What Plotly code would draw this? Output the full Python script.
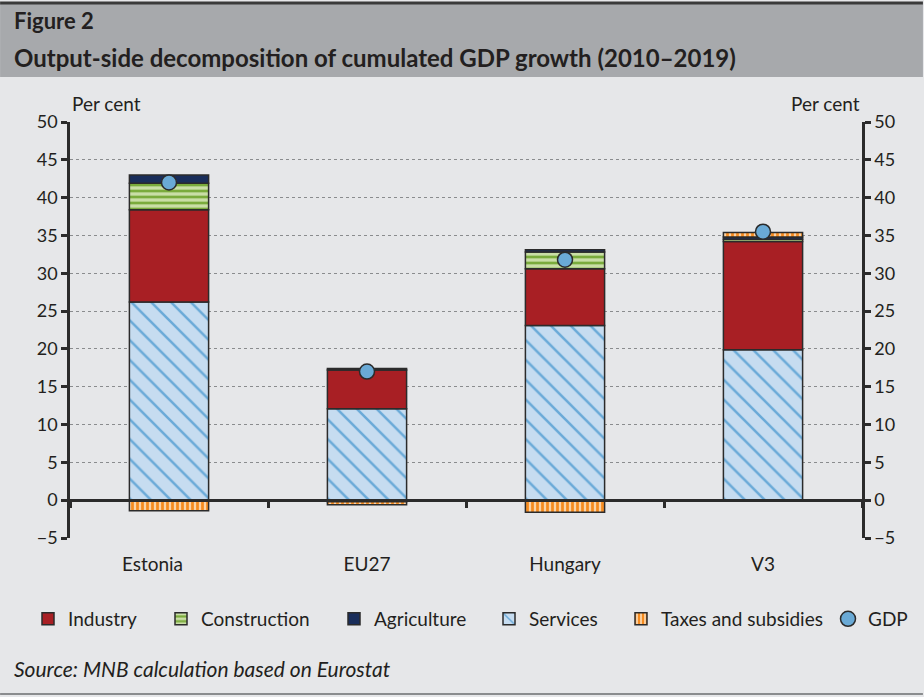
import plotly.graph_objects as go

# Cumulated GDP growth 2010-2019, contributions by sector (percentage points)
countries = ["Estonia", "EU27", "Hungary", "V3"]
services = [26.2, 12.1, 23.1, 19.9]
industry = [12.2, 5.1, 7.5, 14.3]
construction = [3.5, -0.2, 2.2, 0.3]
agriculture = [1.1, 0.2, 0.3, 0.3]
taxes = [-1.4, -0.4, -1.6, 0.6]
gdp = [42.0, 17.0, 31.8, 35.5]

y_ticks = list(range(-5, 55, 5))
y_tick_text = [("\u2212" + str(-v)) if v < 0 else str(v) for v in y_ticks]
# the Estonia label sits slightly left of its bar
x_tick_text = ["Estonia" + "\u2007" * 3, "EU27", "Hungary", "V3"]

FONT = "Lato"
TXT = "#231f20"
EDGE = "#2b2b2b"
BG = "#e6e7e9"

L, R, T, B = 70, 61, 122, 159
PW, PH = 924 - L - R, 697 - T - B


def px_x(p):
    return (p - L) / PW


def px_y(p):
    return (697 - B - p) / PH


fig = go.Figure()

# each legend entry gets its own legend box so the row spans the full width
legend_text_x = {"Industry": 70, "Construction": 203, "Agriculture": 376,
                 "Services": 531, "Taxes and subsidies": 663, "GDP": 870}
legend_ids = {"Industry": "legend", "Construction": "legend2", "Agriculture": "legend3",
              "Services": "legend4", "Taxes and subsidies": "legend5", "GDP": "legend6"}

bar_specs = [
    ("Services", services, dict(fillmode="replace", shape="\\", bgcolor="#c6dcf0",
                                fgcolor="#6aaad8", size=14, solidity=0.18)),
    ("Industry", industry, None),
    ("Construction", construction, dict(fillmode="replace", shape="-", bgcolor="#c9dea6",
                                        fgcolor="#7aab3c", size=6, solidity=0.45)),
    ("Agriculture", agriculture, None),
    ("Taxes and subsidies", taxes, dict(fillmode="replace", shape="|", bgcolor="#fbd3a6",
                                        fgcolor="#f68b1f", size=5, solidity=0.55)),
]
solid = {"Industry": "#a81f24", "Agriculture": "#192d5a"}

for name, vals, pattern in bar_specs:
    marker = dict(line=dict(color=EDGE, width=1.5))
    if pattern:
        marker["pattern"] = pattern
        marker["color"] = pattern["bgcolor"]
    else:
        marker["color"] = solid[name]
    fig.add_trace(go.Bar(
        x=countries, y=vals, name=name, marker=marker, width=0.4,
        legend=legend_ids[name], xaxis="x", yaxis="y",
    ))

fig.add_trace(go.Scatter(
    x=countries, y=gdp, name="GDP", mode="markers", legend=legend_ids["GDP"],
    marker=dict(size=15, color="#6aaad6", line=dict(color=EDGE, width=1.5)),
    xaxis="x", yaxis="y",
))

# invisible trace so the zero-line category axis is drawn
fig.add_trace(go.Scatter(x=countries, y=[0] * 4, mode="markers", showlegend=False,
                         marker=dict(opacity=0), hoverinfo="skip",
                         xaxis="x2", yaxis="y"))
# invisible trace for the right-hand value axis
fig.add_trace(go.Scatter(x=countries, y=[0] * 4, mode="markers", showlegend=False,
                         marker=dict(opacity=0), hoverinfo="skip",
                         xaxis="x", yaxis="y2"))

yaxis_common = dict(
    range=[-5, 50], tickvals=y_ticks, ticktext=y_tick_text,
    showline=True, linecolor=EDGE, linewidth=2.5,
    ticks="outside", ticklen=6, tickwidth=2.5, tickcolor=EDGE,
    tickfont=dict(family=FONT, size=18, color=TXT),
    zeroline=False,
)

legend_layout = {}
for name, lid in legend_ids.items():
    legend_layout[lid] = dict(
        orientation="h", x=px_x(legend_text_x[name] - 42), xanchor="left",
        y=px_y(619), yanchor="middle",
        font=dict(family=FONT, size=19, color=TXT),
        bgcolor="rgba(0,0,0,0)",
    )

fig.update_layout(
    width=924, height=697,
    margin=dict(l=L, r=R, t=T, b=B),
    paper_bgcolor=BG, plot_bgcolor=BG,
    barmode="relative", bargap=0.6,
    font=dict(family=FONT, color=TXT),
    xaxis=dict(
        type="category", categoryorder="array", categoryarray=countries,
        range=[-0.5, 3.5], tickvals=countries, ticktext=x_tick_text,
        showline=False, ticks="", showgrid=False, zeroline=False,
        tickfont=dict(family=FONT, size=19, color=TXT),
        ticklabelstandoff=13,
    ),
    xaxis2=dict(
        type="category", categoryorder="array", categoryarray=countries,
        range=[-0.5, 3.5], overlaying="x", anchor="free", position=5 / 55,
        showline=True, linecolor=EDGE, linewidth=2.5,
        tickson="boundaries", ticks="outside", ticklen=6, tickwidth=2.5,
        tickcolor=EDGE, showticklabels=False, showgrid=False,
        layer="above traces",
    ),
    yaxis=dict(
        **yaxis_common, side="left",
        showgrid=True, gridcolor="#8a8c8e", griddash="dot", gridwidth=1.3,
    ),
    yaxis2=dict(
        **yaxis_common, side="right", overlaying="y", anchor="x", showgrid=False,
    ),
    showlegend=True,
    **legend_layout,
)

# header band and frame lines
fig.add_shape(type="rect", xref="paper", yref="paper",
              x0=px_x(0), x1=px_x(924), y0=px_y(77), y1=px_y(4),
              fillcolor="#a7a9ac", line=dict(width=0), layer="below")
fig.add_shape(type="line", xref="paper", yref="paper",
              x0=px_x(0), x1=px_x(924), y0=px_y(3), y1=px_y(3),
              line=dict(color="#3a3a3a", width=3))
fig.add_shape(type="line", xref="paper", yref="paper",
              x0=px_x(0), x1=px_x(924), y0=px_y(694), y1=px_y(694),
              line=dict(color="#8a8c8e", width=2))

annotations = [
    ("<b>Figure 2</b>", 12, 20, 22),
    ("<b>Output-side decomposition of cumulated GDP growth (2010\u20132019)</b>", 12, 57, 24),
    ("<i>Source: MNB calculation based on Eurostat</i>", 12, 668, 21),
]
for text, x, y, size in annotations:
    fig.add_annotation(
        text=text, xref="paper", yref="paper",
        x=px_x(x), y=px_y(y),
        xanchor="left", yanchor="middle", showarrow=False,
        font=dict(family=FONT, size=size, color=TXT),
    )

fig.add_annotation(text="Per cent", xref="paper", yref="paper",
                   x=px_x(70), y=px_y(104), xanchor="left",
                   yanchor="middle", showarrow=False,
                   font=dict(family=FONT, size=19, color=TXT))
fig.add_annotation(text="Per cent", xref="paper", yref="paper",
                   x=px_x(863), y=px_y(104), xanchor="right",
                   yanchor="middle", showarrow=False,
                   font=dict(family=FONT, size=19, color=TXT))

fig.write_html("out.html")
